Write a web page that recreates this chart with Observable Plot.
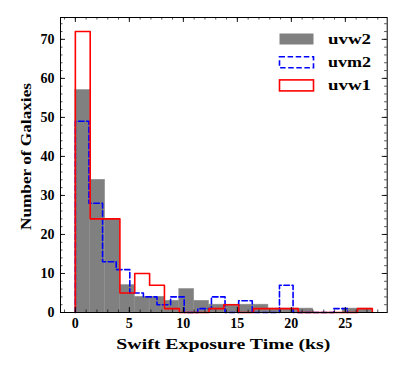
<!DOCTYPE html>
<html><head><meta charset="utf-8">
<script src="https://cdn.jsdelivr.net/npm/d3@7"></script>
<script src="https://cdn.jsdelivr.net/npm/@observablehq/plot@0.6"></script>
<style>body{margin:0;background:#fff}</style>
</head><body><div id="chart"></div>
<script>
// ---- data ----
const seriesNames = ["uvw2", "uvm2", "uvw1"];
const uvw2Counts = [57, 34, 24, 7, 4, 4, 3, 6, 3, 2, 2, 2, 2, 1, 1, 1, 0, 0, 1, 1];
const uvm2Counts = [49, 28, 13, 11, 5, 4, 2, 4, 0, 1, 4, 0, 3, 0, 0, 7, 0, 0, 0, 1];
const uvw1Counts = [72, 24, 24, 5, 10, 7, 1, 0, 0, 1, 2, 0, 1, 1, 1, 0, 0, 0, 0, 1];
const uvw2BinWidth = 1.375;
const uvm2BinWidth = 1.26;
const uvw1BinWidth = 1.375;
const xMajorTicks = [0, 5, 10, 15, 20, 25];
const yMajorTicks = [0, 10, 20, 30, 40, 50, 60, 70];
const xMinorStep = 1, yMinorStep = 2;
const xLabel = "Swift Exposure Time (ks)";
const yLabel = "Number of Galaxies";

// ---- derived tables ----
const bars = (counts, w) => counts.map((c, i) => ({x1: i * w, x2: (i + 1) * w, y: c}));
function stepOutline(counts, w) {
  const pts = [{x: 0, y: 0}];
  counts.forEach((c, i) => pts.push({x: i * w, y: c}));
  pts.push({x: counts.length * w, y: counts[counts.length - 1]});
  pts.push({x: counts.length * w, y: 0});
  return pts;
}
const xDomain = [-1.375, 28.875], yDomain = [0, 75.6];
const xMinor = d3.range(Math.ceil(xDomain[0]), xDomain[1], xMinorStep);
const yMinor = d3.range(0, yDomain[1], yMinorStep);

const W = 407, H = 370, ml = 60, mr = 20.3, mt = 17, mb = 58;
const pw = W - ml - mr, ph = H - mt - mb;
const font = "Liberation Serif";

const chart = Plot.plot({
  width: W, height: H,
  marginLeft: ml, marginRight: mr, marginTop: mt, marginBottom: mb,
  x: {domain: xDomain},
  y: {domain: yDomain},
  style: {fontFamily: font, fontWeight: "bold", fontSize: "14px", color: "black", background: "white"},
  marks: [
    Plot.rectY(bars(uvw2Counts, uvw2BinWidth), {x1: "x1", x2: "x2", y: "y", fill: "#808080", stroke: "#8e8e8e", strokeWidth: 0.6}),
    Plot.line(stepOutline(uvm2Counts, uvm2BinWidth), {x: "x", y: "y", curve: "step-after", stroke: "#0000ff", strokeWidth: 1.6, strokeDasharray: "5.5,2.6"}),
    Plot.line(stepOutline(uvw1Counts, uvw1BinWidth), {x: "x", y: "y", curve: "step-after", stroke: "#ff0000", strokeWidth: 1.6}),
    // inward ticks on all four sides
    Plot.tickX(xMajorTicks, {x: d => d, insetTop: ph - 5, stroke: "black", strokeWidth: 0.9}),
    Plot.tickX(xMajorTicks, {x: d => d, insetBottom: ph - 5, stroke: "black", strokeWidth: 0.9}),
    Plot.tickX(xMinor, {x: d => d, insetTop: ph - 2.5, stroke: "black", strokeWidth: 0.7}),
    Plot.tickX(xMinor, {x: d => d, insetBottom: ph - 2.5, stroke: "black", strokeWidth: 0.7}),
    Plot.tickY(yMajorTicks, {y: d => d, insetRight: pw - 5, stroke: "black", strokeWidth: 0.9}),
    Plot.tickY(yMajorTicks, {y: d => d, insetLeft: pw - 5, stroke: "black", strokeWidth: 0.9}),
    Plot.tickY(yMinor, {y: d => d, insetRight: pw - 2.5, stroke: "black", strokeWidth: 0.7}),
    Plot.tickY(yMinor, {y: d => d, insetLeft: pw - 2.5, stroke: "black", strokeWidth: 0.7}),
    Plot.axisX({ticks: xMajorTicks, tickSize: 0, tickPadding: 6, label: null}),
    Plot.axisY({ticks: yMajorTicks, tickSize: 0, tickPadding: 6, label: null}),
    Plot.frame({stroke: "black", strokeWidth: 1})
  ]
});
document.getElementById("chart").appendChild(chart);

// axis titles and legend (inside the frame, top right)
const svg = d3.select(chart);
const addText = (sel, size, len) => sel
  .attr("dominant-baseline", "central")
  .attr("textLength", len).attr("lengthAdjust", "spacingAndGlyphs")
  .style("font-size", size).style("font-weight", "bold").style("font-family", font);

addText(svg.append("text").attr("x", ml + pw / 2).attr("y", 343).attr("text-anchor", "middle"), "15.5px", 214)
  .text(xLabel);
addText(svg.append("text").attr("transform", `translate(25,156.5) rotate(-90)`).attr("text-anchor", "middle"), "15.5px", 147)
  .text(yLabel);

const leg = svg.append("g");
const legendStyles = [
  {fill: "#808080", stroke: "none", dash: null},
  {fill: "none", stroke: "#0000ff", dash: "5.5,2.6"},
  {fill: "none", stroke: "#ff0000", dash: null}
];
seriesNames.forEach((name, i) => {
  const cy = 39 + i * 23.2;
  const s = legendStyles[i];
  leg.append("rect").attr("x", 279.5).attr("y", cy - 5.5).attr("width", 34).attr("height", 11)
    .attr("fill", s.fill).attr("stroke", s.stroke).attr("stroke-width", 1.6)
    .attr("stroke-dasharray", s.dash);
  addText(leg.append("text").attr("x", 328).attr("y", cy).attr("text-anchor", "start"), "15px", 43)
    .text(name);
});
</script></body></html>
